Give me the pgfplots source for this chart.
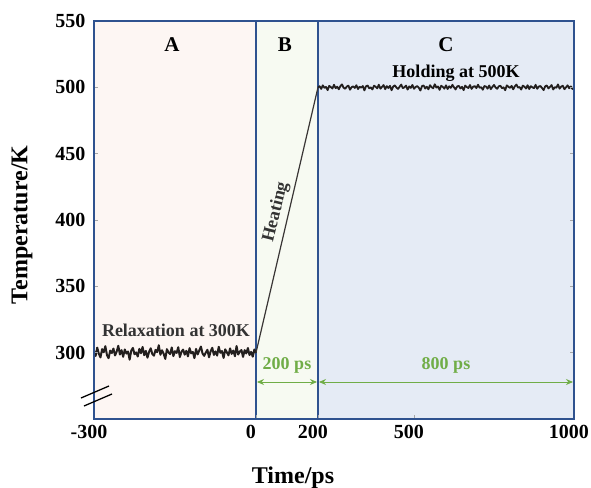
\documentclass[border=0pt]{standalone}
\usepackage{pgfplots}
\pgfplotsset{compat=1.18}
\usepackage{fontspec}
\setmainfont{Liberation Serif}
\usetikzlibrary{arrows.meta}

\definecolor{bgA}{HTML}{FDF6F3}
\definecolor{bgB}{HTML}{F7FAF2}
\definecolor{bgC}{HTML}{E5EBF5}
\definecolor{frame}{HTML}{2F528F}
\definecolor{grn}{HTML}{70AD47}
\definecolor{trace}{HTML}{231F1E}

\newcommand{\fs}[1]{\bfseries\fontsize{#1bp}{#1bp}\selectfont}

\begin{document}
\begin{tikzpicture}
\begin{axis}[
  at={(0,0)}, anchor=south west,
  scale only axis, width=480bp, height=398bp,
  xmin=-162, xmax=318, ymin=250, ymax=550,
  % piecewise time axis: -300..0, 0..200, 200..1000
  x filter/.expression={x<0 ? 0.54*x : (x<=200 ? 0.31*x : 62+0.32*(x-200))},
  xtick={-162,0,62,158,318}, xticklabels={-300,0,200,500,1000},
  ytick={300,350,...,550},
  xtick pos=left,
  tick align=inside,
  major tick length=4bp,
  tick style={draw=gray!70, thin},
  axis line style={draw=frame, line width=1.3bp},
  axis on top=true,
  /pgf/number format/assume math mode=true,
  ticklabel style={font=\fs{20}},
  xticklabel style={yshift=-3bp, xshift=-5bp},
  yticklabel style={xshift=-5bp},
]
\addplot[fill=bgA, draw=none] coordinates {(-300,550) (0,550)} \closedcycle;
\addplot[fill=bgB, draw=none] coordinates {(0,550) (200,550)} \closedcycle;
\addplot[fill=bgC, draw=none] coordinates {(200,550) (1000,550)} \closedcycle;
\addplot[frame, line width=1.3bp] coordinates {(0,250) (0,550)};
\addplot[frame, line width=1.3bp] coordinates {(200,250) (200,550)};

% A: relaxation at 300 K
\addplot[trace, line width=2bp, line join=round] coordinates {
(-300,301.2) (-297,297.5) (-294,303.8) (-291,299.1) (-288,296.4) (-285,302.7)
(-282,300.3) (-279,304.9) (-276,298.2) (-273,295.8) (-270,301.6) (-267,299.7)
(-264,303.1) (-261,297.9) (-258,300.8) (-255,305.2) (-252,298.6) (-249,301.9)
(-246,296.9) (-243,302.4) (-240,299.3) (-237,300.9) (-234,294.7) (-231,301.5)
(-228,303.6) (-225,298.8) (-222,300.2) (-219,297.1) (-216,302.9) (-213,299.6)
(-210,304.3) (-207,298.1) (-204,301.3) (-201,296.2) (-198,300.6) (-195,303.3)
(-192,299.0) (-189,297.7) (-186,302.1) (-183,300.4) (-180,305.6) (-177,298.4)
(-174,301.8) (-171,299.2) (-168,295.3) (-165,302.6) (-162,300.1) (-159,298.9)
(-156,303.9) (-153,297.4) (-150,301.1) (-147,299.8) (-144,304.1) (-141,296.7)
(-138,300.7) (-135,302.3) (-132,298.5) (-129,301.4) (-126,297.2) (-123,303.4)
(-120,299.5) (-117,300.5) (-114,295.9) (-111,302.8) (-108,298.7) (-105,301.7)
(-102,304.6) (-99,299.4) (-96,297.6) (-93,300.0) (-90,302.2) (-87,296.5)
(-84,301.0) (-81,303.7) (-78,298.3) (-75,300.9) (-72,297.8) (-69,304.4)
(-66,299.9) (-63,301.2) (-60,296.0) (-57,302.5) (-54,300.3) (-51,298.0)
(-48,303.2) (-45,299.1) (-42,301.6) (-39,297.3) (-36,305.0) (-33,298.6)
(-30,300.8) (-27,302.0) (-24,296.8) (-21,301.9) (-18,299.4) (-15,303.5)
(-12,298.2) (-9,300.6) (-6,297.0) (-3,302.4) (0,299.8)
};

% B: heating ramp
\addplot[trace!90, line width=1.2bp] coordinates {(0,300) (200,500)};

% C: holding at 500 K
\addplot[trace, line width=1.8bp, line join=round] coordinates {
(200,500.0) (205,500.8) (210,498.8) (215,501.5) (220,499.6) (225,500.3)
(230,497.9) (235,501.1) (240,500.2) (245,499.1) (250,501.9) (255,499.4)
(260,500.5) (265,498.5) (270,500.9) (275,502.2) (280,499.7) (285,498.9)
(290,500.6) (295,501.3) (300,498.2) (305,500.1) (310,500.7) (315,499.5)
(320,501.6) (325,498.7) (330,500.4) (335,499.8) (340,501.0) (345,497.7)
(350,500.8) (355,501.4) (360,499.3) (365,500.0) (370,498.4) (375,501.2)
(380,500.5) (385,499.2) (390,502.0) (395,499.0) (400,500.3) (405,501.7)
(410,498.6) (415,500.9) (420,499.5) (425,501.1) (430,497.8) (435,500.6)
(440,501.5) (445,499.9) (450,498.8) (455,500.4) (460,502.1) (465,499.4)
(470,500.0) (475,501.3) (480,498.3) (485,500.7) (490,499.6) (495,501.8)
(500,498.9) (505,500.2) (510,501.0) (515,499.7) (520,497.6) (525,500.9)
(530,501.4) (535,499.1) (540,500.5) (545,498.5) (550,501.6) (555,500.1)
(560,499.3) (565,502.3) (570,499.8) (575,500.6) (580,498.1) (585,501.2)
(590,500.3) (595,499.0) (600,501.5) (605,498.7) (610,500.8) (615,499.6)
(620,501.9) (625,500.0) (630,498.4) (635,500.7) (640,501.1) (645,499.2)
(650,500.4) (655,497.9) (660,501.3) (665,500.2) (670,499.5) (675,501.7)
(680,498.8) (685,500.5) (690,500.9) (695,499.4) (700,502.0) (705,499.7)
(710,500.1) (715,498.2) (720,501.0) (725,500.6) (730,499.0) (735,501.4)
(740,498.6) (745,500.3) (750,501.8) (755,499.9) (760,498.9) (765,500.8)
(770,501.2) (775,499.3) (780,500.0) (785,497.8) (790,501.5) (795,500.4)
(800,499.6) (805,501.1) (810,498.5) (815,500.7) (820,502.1) (825,499.8)
(830,500.2) (835,498.3) (840,501.3) (845,500.5) (850,499.1) (855,501.6)
(860,498.7) (865,500.9) (870,500.0) (875,499.4) (880,501.9) (885,498.9)
(890,500.6) (895,501.0) (900,499.5) (905,497.9) (910,500.8) (915,501.4)
(920,499.2) (925,500.3) (930,501.7) (935,498.4) (940,500.1) (945,499.7)
(950,502.2) (955,499.0) (960,500.5) (965,501.2) (970,498.6) (975,500.0)
(980,501.5) (985,499.3) (990,500.7) (995,498.8) (1000,500.4)
};
\end{axis}

% region letters
\node[font=\fs{21}] at (78bp,374bp) {A};
\node[font=\fs{21}] at (191bp,374bp) {B};
\node[font=\fs{21}] at (352bp,374bp) {C};
% annotations
\node[font=\fs{18}] at (362bp,346bp) {Holding at 500K};
\node[font=\fs{18}, text=black!80] at (82bp,89bp) {Relaxation at 300K};
\node[font=\fs{18}, text=black!80, rotate=76, inner sep=0pt] at (182bp,207bp) {Heating};
\node[font=\fs{18}, text=grn] at (193bp,54bp) {200 ps};
\node[font=\fs{18}, text=grn] at (352bp,54bp) {800 ps};
\draw[grn, line width=0.9bp, {Stealth[length=7bp,width=6bp]}-{Stealth[length=7bp,width=6bp]}] (163bp,37bp) -- (223bp,37bp);
\draw[grn, line width=0.9bp, {Stealth[length=7bp,width=6bp]}-{Stealth[length=7bp,width=6bp]}] (225bp,37bp) -- (479bp,37bp);
% axis break
\draw[black, line width=1.3bp] (-13bp,21bp) -- (15bp,33bp);
\draw[black, line width=1.3bp] (-10bp,13bp) -- (18bp,25bp);
% axis titles
\node[font=\fs{24}] at (199bp,-59bp) {Time/ps};
\node[font=\fs{24}, rotate=90] at (-72bp,194bp) {Temperature/K};

\pgfresetboundingbox
\useasboundingbox (-94bp,-69bp) rectangle (497bp,419bp);
\end{tikzpicture}
\end{document}
